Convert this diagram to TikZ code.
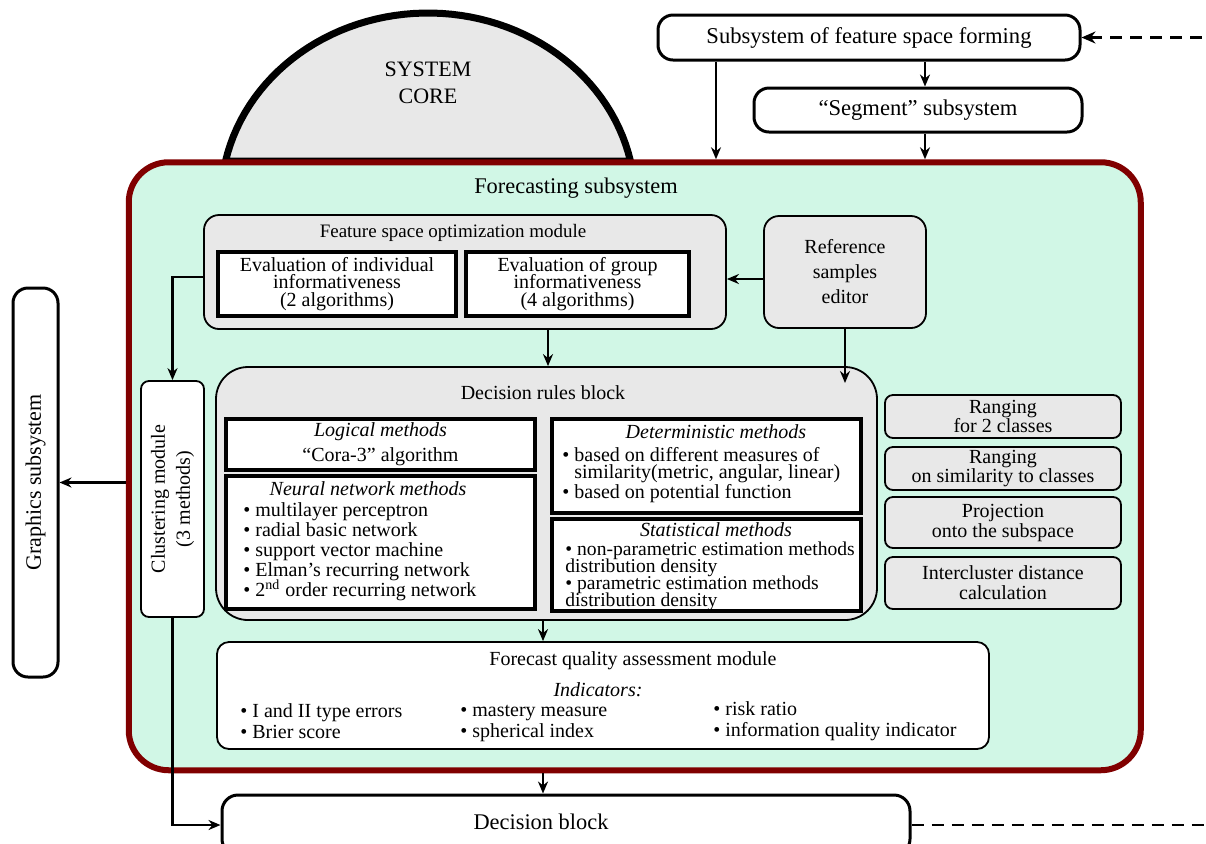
\documentclass[tikz,border=0pt]{standalone}
\usepackage{fontspec}
\setmainfont{Liberation Serif}
\usetikzlibrary{arrows.meta}
\definecolor{mint}{RGB}{209,247,230}
\definecolor{boxgray}{RGB}{232,232,232}
\definecolor{darkred}{RGB}{128,0,0}
\newcommand{\tightlines}{\lineskiplimit=-10pt\relax}

\begin{document}
\begin{tikzpicture}[x=0.5pt,y=-0.5pt,>={Stealth[length=6pt,width=5pt]},
	box/.style={draw,line width=1.5pt,rounded corners=7.5pt,fill=white,align=center,inner sep=0pt,font=\fontsize{11.3}{13}\selectfont},
	gbox/.style={draw,line width=0.9pt,rounded corners=7.5pt,fill=boxgray,align=center,inner sep=0pt},
	wbox/.style={draw,line width=0.9pt,rounded corners=5pt,fill=white,align=center,inner sep=0pt},
	mbox/.style={draw,line width=1.75pt,fill=white,align=center,inner sep=0pt},
	txt/.style={inner sep=0pt,align=left,font=\fontsize{10}{#1}\selectfont\tightlines},
	txt/.default=12,
	link/.style={->,line width=1.3pt},
	dashlink/.style={line width=1.3pt,dash pattern=on 6pt off 4pt}]
			\useasboundingbox (0,0) rectangle (1206,843);
			\clip (0,0) rectangle (1206,843);
			% System core
			\draw[line width=3.5pt, fill=boxgray] plot[domain=12:168, samples=60] ({428+207*cos(\x)}, {200-187*sin(\x)}) -- cycle;
			\node[align=center, font=\fontsize{11}{13.5}\selectfont] (core) at (428,83) {SYSTEM\\CORE};
			% Forecasting subsystem
			\node[draw=darkred, line width=3pt, fill=mint, rounded corners=20pt, minimum width=506pt, minimum height=304pt] (forecast) at (634.75,466.25) {};
			\node[font=\fontsize{11.2}{13}\selectfont] (forecasttitle) at (576,188) {Forecasting subsystem};
			% Upper subsystems
			\node[box, minimum width=211pt, minimum height=22.5pt] (feature) at (869,37.5) {Subsystem of feature space forming};
			\node[box, minimum width=164pt, minimum height=22pt] (segment) at (918,110) {“Segment” subsystem};
			\coordinate (fsin) at (1206,37.5);
			\coordinate (colA) at (716,0);
			\coordinate (colB) at (925,0);
			\draw[link] (feature.south -| colA) -- (forecast.north -| colA);
			\draw[link] (feature.south -| colB) -- (segment.north -| colB);
			\draw[link] (segment.south -| colB) -- (forecast.north -| colB);
			\draw[dashlink, <-, >={Stealth[length=7pt,width=6pt]}] (feature.east) -- (fsin);
			% Feature space optimization module
			\node[gbox, minimum width=261pt, minimum height=57pt] (optmod) at (465,272) {};
			\node[txt, font=\fontsize{9.5}{11}\selectfont] (optmodtitle) at (453,233) {Feature space optimization module};
			\node[mbox, minimum width=119pt, minimum height=32pt, font=\fontsize{10}{8.75}\selectfont\tightlines] (evalind) at (337,284) {Evaluation of individual\\informativeness\\(2 algorithms)};
			\node[mbox, minimum width=111.5pt, minimum height=32pt, font=\fontsize{10}{8.75}\selectfont\tightlines] (evalgrp) at (577.5,284) {Evaluation of group\\informativeness\\(4 algorithms)};
			\node[gbox, minimum width=81pt, minimum height=56pt, font=\fontsize{10}{12.5}\selectfont] (refed) at (845,272) {Reference\\samples\\editor};
			% Clustering and graphics
			\node[wbox, rotate=90, minimum width=118pt, minimum height=31.5pt, rounded corners=4pt, font=\fontsize{10}{12.5}\selectfont] (clustering) at (172.5,499) {Clustering module\\(3 methods)};
			\node[box, rotate=90, minimum width=194.5pt, minimum height=22.5pt, font=\fontsize{11}{13}\selectfont] (graphics) at (35.5,482.5) {Graphics subsystem};
			% Decision rules block
			\node[gbox, rounded corners=16pt, minimum width=330.5pt, minimum height=126.5pt] (rules) at (546.5,493.5) {};
			\node[txt] (rulestitle) at (543,393) {Decision rules block};
			\node[mbox, minimum width=154.5pt, minimum height=25.5pt, font=\fontsize{10}{12.5}\selectfont] (logical) at (380.5,444.5) {\textit{Logical methods}\\“Cora-3” algorithm};
			\node[mbox, minimum width=154.5pt, minimum height=66.5pt] (neural) at (380.5,542.5) {};
			\node[txt, font=\fontsize{10}{12}\itshape] (neuraltitle) at (368,489) {Neural network methods};
			\node[txt=10, anchor=west] (neurallist) at (243,552) {\textbullet\ multilayer perceptron\\\textbullet\ radial basic network\\\textbullet\ support vector machine\\\textbullet\ Elman’s recurring network\\\textbullet\ 2\textsuperscript{nd} order recurring network};
			\node[mbox, minimum width=154.5pt, minimum height=47pt] (determ) at (706.5,466) {};
			\node[txt, font=\fontsize{10}{12}\itshape] (determtitle) at (716,432) {Deterministic methods};
			\node[txt=8.5, anchor=west] (determlist) at (562,475) {\textbullet\ based on different measures of\\\phantom{\textbullet\ }similarity(metric, angular, linear)\\[1.5pt]\textbullet\ based on potential function};
			\node[mbox, minimum width=154.5pt, minimum height=46pt] (statist) at (706.5,565) {};
			\node[txt, font=\fontsize{10}{12}\itshape] (statisttitle) at (716,530) {Statistical methods};
			\node[txt, anchor=west, font=\fontsize{9.8}{8.5}\selectfont\tightlines] (statistlist) at (565,576) {\textbullet\ non-parametric estimation methods\\distribution density\\\textbullet\ parametric estimation methods\\distribution density};
			% Right column
			\node[gbox, minimum width=118pt, minimum height=21.5pt, rounded corners=4pt, font=\fontsize{10}{9.5}\selectfont] (rank1) at (1003,416.5) {Ranging\\for 2 classes};
			\node[gbox, minimum width=118pt, minimum height=21.5pt, rounded corners=4pt, font=\fontsize{10}{9.5}\selectfont] (rank2) at (1003,468.5) {Ranging\\on similarity to classes};
			\node[gbox, minimum width=118pt, minimum height=25.5pt, rounded corners=4pt, font=\fontsize{10}{10}\selectfont] (proj) at (1003,522.5) {Projection\\onto the subspace};
			\node[gbox, minimum width=118pt, minimum height=26pt, rounded corners=4pt, font=\fontsize{10}{10}\selectfont] (inter) at (1003,583) {Intercluster distance\\calculation};
			% Forecast quality assessment module
			\node[wbox, rounded corners=6pt, minimum width=386pt, minimum height=53.5pt] (quality) at (603,695.5) {};
			\node[txt] (qualitytitle) at (633,661) {Forecast quality assessment module};
			\node[txt, font=\fontsize{10}{12}\itshape] (indicators) at (598,690) {Indicators:};
			\node[txt=10.5, anchor=west] (indA) at (240,721.5) {\textbullet\ I and II type errors\\\textbullet\ Brier score};
			\node[txt=10.5, anchor=west] (indB) at (460,723.5) {\textbullet\ mastery measure\\\textbullet\ spherical index};
			\node[txt=10.5, anchor=west] (indC) at (713,721.5) {\textbullet\ risk ratio\\\textbullet\ information quality indicator};
			% Decision block
			\node[box, minimum width=344pt, minimum height=30pt, rounded corners=8pt] (decision) at (566,825) {};
			\node[font=\fontsize{11.2}{13}\selectfont] (decisiontitle) at (541,822) {Decision block};
			\coordinate (decout) at (1206,825);
			\draw[dashlink] (decision.east) -- (decout);
			% Connectors
			\coordinate (colC) at (548,0);
			\coordinate (colD) at (543,0);
			\coordinate (refin) at (845,383);
			\draw[link] ([yshift=-3.5pt]refed.west) -- ([yshift=-3.5pt]optmod.east);
			\draw[link] ([yshift=-2.5pt]optmod.west) -| (clustering.east);
			\draw[link] (optmod.south -| colC) -- (rules.north -| colC);
			\draw[link] (refed.south) -- (refin);
			\draw[link] (forecast.west |- graphics.south) -- (graphics.south);
			\draw[link] (clustering.west) |- (decision.west);
			\draw[link] (rules.south -| colD) -- (quality.north -| colD);
			\draw[link] (forecast.south -| colD) -- (decision.north -| colD);
		\end{tikzpicture}
\end{document}
